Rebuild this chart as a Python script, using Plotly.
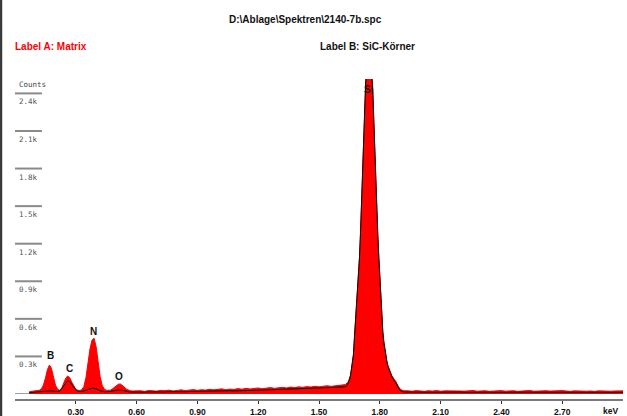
import plotly.graph_objects as go

# ---------------- data ----------------
energy_low = [0.07, 0.08, 0.09, 0.10, 0.11, 0.12, 0.13, 0.14, 0.15, 0.16,
              0.17, 0.18, 0.19, 0.20, 0.21, 0.22, 0.23, 0.24, 0.25, 0.26,
              0.27, 0.28, 0.29, 0.30, 0.31, 0.32, 0.33, 0.34, 0.35, 0.36,
              0.37, 0.38, 0.39, 0.40, 0.41, 0.42, 0.43, 0.44, 0.45, 0.46,
              0.47, 0.48, 0.49, 0.50, 0.51, 0.52, 0.53, 0.54, 0.55, 0.56,
              0.57, 0.58, 0.59, 0.60]
matrix_low = [18, 20, 22, 24, 26, 30, 40, 70, 125, 195,
              231, 205, 135, 70, 38, 30, 45, 80, 125, 144,
              130, 95, 60, 38, 30, 28, 35, 60, 130, 250,
              360, 430, 445, 380, 260, 140, 70, 40, 30, 28,
              30, 40, 52, 65, 78, 80, 70, 55, 38, 30,
              26, 24, 25, 23]
sic_low = [10, 12, 13, 14, 15, 16, 18, 22, 26, 28,
           28, 26, 22, 20, 20, 24, 40, 65, 90, 105,
           100, 80, 52, 32, 22, 20, 20, 24, 30, 38,
           44, 46, 46, 42, 34, 26, 20, 18, 18, 18,
           20, 24, 28, 32, 35, 34, 30, 24, 20, 18,
           16, 15, 15, 15]

energy_mid = [0.62, 0.64, 0.66, 0.68, 0.70, 0.72, 0.74, 0.76, 0.78, 0.80,
              0.82, 0.84, 0.86, 0.88, 0.90, 0.92, 0.94, 0.96, 0.98, 1.00,
              1.02, 1.04, 1.06, 1.08, 1.10, 1.12, 1.14, 1.16, 1.18, 1.20,
              1.22, 1.24, 1.26, 1.28, 1.30, 1.32, 1.34, 1.36, 1.38, 1.40,
              1.42, 1.44, 1.46, 1.48, 1.50, 1.52, 1.54, 1.56, 1.58, 1.60,
              1.62]
matrix_mid = [26, 21, 28, 25, 23, 29, 26, 31, 24, 28,
              33, 27, 30, 35, 29, 34, 31, 37, 33, 36,
              41, 34, 39, 36, 43, 38, 45, 40, 44, 48,
              42, 47, 51, 45, 49, 53, 48, 55, 51, 57,
              53, 59, 55, 62, 57, 60, 66, 61, 64, 67,
              70]
sic_mid = [15, 14, 16, 15, 16, 17, 16, 18, 17, 18,
           19, 18, 20, 21, 20, 22, 21, 23, 22, 24,
           25, 24, 26, 25, 27, 27, 28, 28, 29, 30,
           31, 32, 33, 33, 35, 36, 37, 39, 40, 42,
           43, 44, 46, 47, 48, 50, 51, 52, 54, 56,
           58]

energy_si = [1.630, 1.640, 1.645, 1.650, 1.655, 1.660, 1.665, 1.670, 1.675, 1.680,
             1.685, 1.690, 1.695, 1.700, 1.705, 1.710, 1.715, 1.720, 1.725, 1.730,
             1.735, 1.740, 1.745, 1.750, 1.755, 1.760, 1.765, 1.770, 1.775, 1.780,
             1.785, 1.790, 1.795, 1.800, 1.805, 1.810, 1.815, 1.820, 1.825, 1.830,
             1.835, 1.840, 1.845, 1.850, 1.855, 1.860, 1.870, 1.880, 1.890, 1.900,
             1.910, 1.920]
matrix_si = [75, 90, 100, 125, 150, 200, 250, 320, 460, 580,
             700, 830, 930, 1100, 1300, 1550, 1790, 2100, 2350, 2480,
             2600, 2650, 2650, 2640, 2600, 2560, 2440, 2200, 1850, 1620,
             1420, 1280, 1100, 930, 780, 620, 500, 420, 360, 300,
             265, 230, 205, 180, 160, 145, 120, 98, 65, 40,
             30, 26]
sic_si = [58, 70, 85, 110, 140, 190, 240, 310, 450, 570,
          690, 820, 920, 1090, 1290, 1540, 1780, 2090, 2340, 2470,
          2590, 2640, 2640, 2630, 2590, 2550, 2430, 2190, 1840, 1610,
          1410, 1270, 1090, 920, 770, 610, 490, 410, 350, 290,
          255, 220, 195, 170, 150, 135, 110, 88, 55, 30,
          20, 16]

energy_tail = [1.94, 1.96, 1.98, 2.00, 2.02, 2.04, 2.06, 2.08, 2.10, 2.12,
               2.14, 2.16, 2.18, 2.20, 2.22, 2.24, 2.26, 2.28, 2.30, 2.32,
               2.34, 2.36, 2.38, 2.40, 2.42, 2.44, 2.46, 2.48, 2.50, 2.52,
               2.54, 2.56, 2.58, 2.60, 2.62, 2.64, 2.66, 2.68, 2.70, 2.72,
               2.74, 2.76, 2.78, 2.80, 2.82, 2.84, 2.86, 2.88, 2.90, 2.92,
               2.94, 2.96, 2.98, 3.00]
matrix_tail = [25, 22, 27, 24, 21, 26, 23, 28, 22, 25,
               24, 27, 21, 26, 23, 25, 28, 22, 24, 26,
               21, 25, 23, 27, 22, 24, 26, 21, 25, 23,
               28, 22, 24, 21, 26, 23, 25, 22, 27, 24,
               21, 25, 23, 26, 22, 24, 21, 25, 23, 26,
               22, 24, 23, 25]
sic_tail = [15, 14, 15, 13, 14, 15, 14, 13, 14, 15,
            13, 14, 14, 15, 13, 14, 15, 14, 13, 14,
            14, 13, 15, 14, 13, 14, 14, 13, 15, 14,
            13, 14, 14, 13, 15, 14, 13, 14, 14, 13,
            14, 13, 14, 15, 13, 14, 13, 14, 14, 13,
            14, 13, 14, 13]

x_tick_vals = [0.30, 0.60, 0.90, 1.20, 1.50, 1.80, 2.10, 2.40, 2.70]
x_tick_text = ["0.30", "0.60", "0.90", "1.20", "1.50", "1.80", "2.10", "2.40", "2.70"]
y_tick_vals = [300, 600, 900, 1200, 1500, 1800, 2100, 2400]
y_tick_text = ["0.3k", "0.6k", "0.9k", "1.2k", "1.5k", "1.8k", "2.1k", "2.4k"]

element_labels = ["B", "C", "N", "O", "Si"]
element_energy = [0.173, 0.271, 0.385, 0.513, 1.746]

title_text = "D:\\Ablage\\Spektren\\2140-7b.spc"
label_a = "Label A: Matrix"
label_b = "Label B: SiC-K\u00f6rner"

# ---------------- assemble ----------------
energy = energy_low + energy_mid + energy_si + energy_tail
matrix_counts = matrix_low + matrix_mid + matrix_si + matrix_tail
sic_counts = sic_low + sic_mid + sic_si + sic_tail

Y_TOP = 2515
FONT = "Liberation Sans, Arial, sans-serif"

fig = go.Figure()
fig.add_trace(go.Scatter(x=energy, y=matrix_counts, mode="lines",
                         fill="tozeroy", fillcolor="#ff0000",
                         line=dict(color="#ff0000", width=1),
                         name=label_a, hoverinfo="skip"))
fig.add_trace(go.Scatter(x=energy, y=sic_counts, mode="lines",
                         line=dict(color="#000000", width=1),
                         name=label_b, hoverinfo="skip"))

annotations = []
shapes = []

# short count markers on the left
for v, t in zip(y_tick_vals, y_tick_text):
    shapes.append(dict(type="line", xref="x", yref="y", x0=0, x1=0.133, y0=v, y1=v,
                       line=dict(color="#8a8a8a", width=2)))
    annotations.append(dict(x=0.012, y=v, xref="x", yref="y", text=t, showarrow=False,
                            xanchor="left", yanchor="top", yshift=-2,
                            font=dict(family="DejaVu Sans Mono, monospace", size=7.5, color="#555555")))
annotations.append(dict(x=0.012, y=2400, xref="x", yref="y", text="Counts", showarrow=False,
                        xanchor="left", yanchor="bottom", yshift=2,
                        font=dict(family="DejaVu Sans Mono, monospace", size=7.5, color="#444444")))

# peak labels
shifts = [10, 7, 7, 7, -3]
for lab, e, s in zip(element_labels, element_energy, shifts):
    local = [c for ee, c in zip(energy, matrix_counts) if abs(ee - e) <= 0.02]
    ypk = min(max(local), Y_TOP)
    annotations.append(dict(x=e, y=ypk, xref="x", yref="y", text=lab, showarrow=False,
                            xanchor="center", yanchor="middle" if s > 0 else "top",
                            yshift=s,
                            font=dict(family=FONT, size=10, color="#111111", weight="bold")))

# header texts
annotations.append(dict(x=0.477, y=1.0, xref="paper", yref="paper", yshift=60,
                        text=title_text, showarrow=False, xanchor="center", yanchor="middle",
                        font=dict(family=FONT, size=10, color="#111111", weight="bold")))
annotations.append(dict(x=0.0, y=1.0, xref="paper", yref="paper", yshift=33, xshift=-2,
                        text=label_a, showarrow=False, xanchor="left", yanchor="middle",
                        font=dict(family=FONT, size=10, color="#ff0000", weight="bold")))
annotations.append(dict(x=0.502, y=1.0, xref="paper", yref="paper", yshift=33, xshift=-2,
                        text=label_b, showarrow=False, xanchor="left", yanchor="middle",
                        font=dict(family=FONT, size=10, color="#111111", weight="bold")))
annotations.append(dict(x=1.0, y=0, xref="paper", yref="paper", yshift=-12, xshift=-3,
                        text="keV", showarrow=False, xanchor="right", yanchor="middle",
                        font=dict(family=FONT, size=8.5, color="#111111", weight="bold")))

# dark left border strip
shapes.append(dict(type="rect", xref="paper", yref="paper", x0=-0.025, x1=-0.021,
                   y0=-0.1, y1=1.3, fillcolor="#3a3a3a", line=dict(width=0), layer="above"))

fig.update_layout(
    annotations=annotations,
    shapes=shapes,
    width=627, height=416,
    margin=dict(l=15, r=4, t=79, b=17, autoexpand=False),
    paper_bgcolor="white", plot_bgcolor="white",
    showlegend=False,
    xaxis=dict(range=[0, 3.0], showgrid=False, zeroline=False, automargin=False,
               showline=True, linecolor="#7a7a7a", linewidth=2,
               ticks="outside", ticklen=3, tickcolor="#333333", tickwidth=1,
               tickvals=x_tick_vals, ticktext=x_tick_text,
               ticklabelstandoff=1,
               tickfont=dict(family=FONT, size=8.5, color="#111111", weight="bold")),
    yaxis=dict(range=[-40, Y_TOP], showgrid=False, showticklabels=False, automargin=False,
               ticks="", showline=False,
               zeroline=True, zerolinecolor="#a0a0a0", zerolinewidth=1),
)

fig.write_html("out.html", config={"displayModeBar": False},
               post_script="document.body.style.margin='0';document.body.style.padding='0';"
                           "document.body.style.overflow='hidden';")
